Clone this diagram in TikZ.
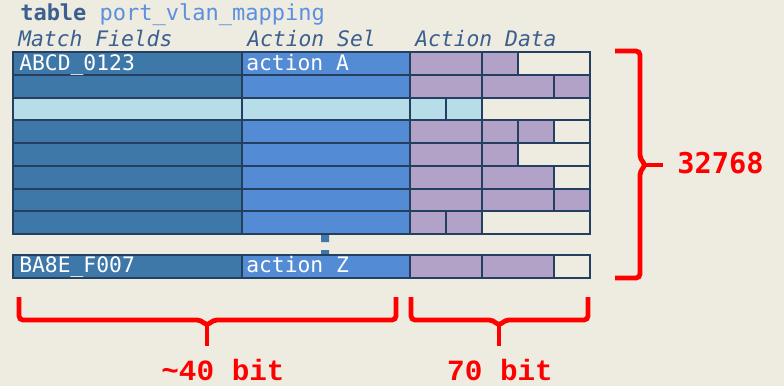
\documentclass[tikz,border=0pt]{standalone}
\usepackage{fontspec}
\usepackage{xcolor}
\newfontfamily\tblfont{DejaVu Sans Mono}
\newfontfamily\bracefont{Liberation Mono}
\definecolor{bgcream}{HTML}{EEEBE0}
\definecolor{matchblue}{HTML}{3E78A8}
\definecolor{selblue}{HTML}{538BD4}
\definecolor{hitblue}{HTML}{B6DDE8}
\definecolor{datapurple}{HTML}{B3A2C7}
\definecolor{gridnavy}{HTML}{243F60}
\definecolor{headblue}{HTML}{3B5F8E}
\definecolor{nameblue}{HTML}{5B8FE0}
% one row of action data: list of start/end/fill in 36px units
\newcommand\datarow[2]{%
	\foreach \s/\e/\f in {#2}
		\draw[cell,fill=\f] ({410+36*\s},#1) rectangle ({410+36*\e},{#1+22.75});}

\begin{document}
\begin{tikzpicture}[x=0.75pt,y=-0.75pt,
		cell/.style={draw=gridnavy,line width=1.5pt},
		brace/.style={draw=red,line width=3.6pt,rounded corners=3pt},
		tbltext/.style={font=\tblfont\fontsize{16}{19}\selectfont,inner sep=0pt,anchor=base west},
		headtext/.style={tbltext,font=\tblfont\itshape\fontsize{16}{19}\selectfont,text=headblue},
		bracetext/.style={inner sep=0pt,text=red}]
	\fill[bgcream] (0,0) rectangle (784,386);
	\useasboundingbox (0,0) rectangle (784,386);

	% headings
	\node[tbltext,font=\tblfont\fontsize{16.5}{19}\selectfont] (title) at (20,20) {\textcolor{headblue}{\bfseries table} \textcolor{nameblue}{port\_vlan\_mapping}};
	\node[headtext] (hdmatch) at (18,46) {Match Fields};
	\node[headtext] (hdsel) at (247,46) {Action Sel};
	\node[headtext] (hddata) at (415,46) {Action Data};

	% match fields and action selector
	\foreach \y/\fa/\fb in {52/matchblue/selblue, 74.75/matchblue/selblue, 97.5/hitblue/hitblue,
			120.25/matchblue/selblue, 143/matchblue/selblue, 165.75/matchblue/selblue,
			188.5/matchblue/selblue, 211.25/matchblue/selblue}{
		\draw[cell,fill=\fa] (13,\y) rectangle (242,\y+22.75);
		\draw[cell,fill=\fb] (242,\y) rectangle (410,\y+22.75);
	}

	% action data
	\datarow{52}{0/2/datapurple,2/3/datapurple,3/5/bgcream}
	\datarow{74.75}{0/2/datapurple,2/4/datapurple,4/5/datapurple}
	\datarow{97.5}{0/1/hitblue,1/2/hitblue,2/5/bgcream}
	\datarow{120.25}{0/2/datapurple,2/3/datapurple,3/4/datapurple,4/5/bgcream}
	\datarow{143}{0/2/datapurple,2/3/datapurple,3/5/bgcream}
	\datarow{165.75}{0/2/datapurple,2/4/datapurple,4/5/bgcream}
	\datarow{188.5}{0/2/datapurple,2/4/datapurple,4/5/datapurple}
	\datarow{211.25}{0/1/datapurple,1/2/datapurple,2/5/bgcream}

	% gap dots
	\fill[matchblue] (321,235) rectangle (329,242) (321,250) rectangle (329,258);

	% last entry
	\draw[cell,fill=matchblue] (13,255) rectangle (242,278);
	\draw[cell,fill=selblue] (242,255) rectangle (410,278);
	\datarow{255}{0/2/datapurple,2/4/datapurple,4/5/bgcream}

	\node[tbltext,text=white] (keyA) at (19,70) {ABCD\_0123};
	\node[tbltext,text=white] (actA) at (246,70) {action A};
	\node[tbltext,text=white] (keyZ) at (19,272) {BA8E\_F007};
	\node[tbltext,text=white] (actZ) at (246,272) {action Z};

	% braces
	\draw[brace] (615,51) -- (640,51) -- (640,159) -- (646,165) -- (640,171) -- (640,278) -- (615,278);
	\draw[brace] (644,165) -- (663,165);
	\draw[brace] (19,297) -- (19,320) -- (201,320) -- (207,326) -- (213,320) -- (396,320) -- (396,297);
	\draw[brace] (207,324) -- (207,346);
	\draw[brace] (411,297) -- (411,320) -- (493,320) -- (499,326) -- (505,320) -- (588,320) -- (588,297);
	\draw[brace] (499,324) -- (499,346);

	\node[bracetext,anchor=base west,font=\tblfont\bfseries\fontsize{21.5}{24}\selectfont] (count) at (677,173) {32768};
	\node[bracetext,anchor=base,font=\bracefont\bfseries\fontsize{22}{24}\selectfont] (matchbits) at (223,380.5) {\textasciitilde40 bit};
	\node[bracetext,anchor=base,font=\bracefont\bfseries\fontsize{22}{24}\selectfont] (databits) at (500,380.5) {70 bit};
\end{tikzpicture}
\end{document}
